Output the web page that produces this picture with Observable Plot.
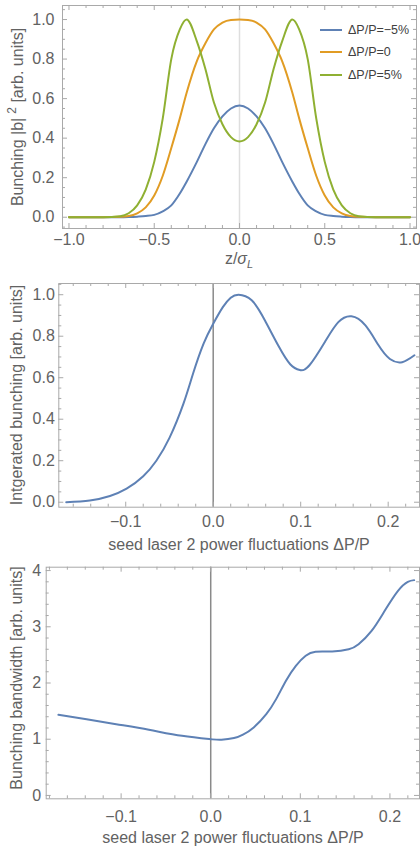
<!DOCTYPE html>
<html><head><meta charset="utf-8">
<script src="https://cdn.jsdelivr.net/npm/d3@7"></script>
<script src="https://cdn.jsdelivr.net/npm/@observablehq/plot@0.6"></script>
<style>
body{margin:0;background:#fff;}
#wrap{position:relative;width:420px;height:848px;overflow:hidden;}
#wrap svg{display:block;}
</style></head><body><div id="wrap"></div>
<script>
// ---------- Panel 1: bunching profiles ----------
const zValues = [-1.0,-0.8,-0.7,-0.65,-0.6,-0.55,-0.5,-0.45,-0.4,-0.35,-0.31,-0.25,-0.2,-0.15,-0.1,-0.05,0,0.05,0.1,0.15,0.2,0.25,0.31,0.35,0.4,0.45,0.5,0.55,0.6,0.65,0.7,0.8,1.0];
const bunchMinus5 = [0,0,0,0.001,0.003,0.006,0.012,0.03,0.06,0.12,0.18,0.28,0.37,0.45,0.51,0.55,0.565,0.55,0.51,0.45,0.37,0.28,0.18,0.12,0.06,0.03,0.012,0.006,0.003,0.001,0,0,0];
const bunchZero   = [0,0,0.002,0.006,0.02,0.05,0.11,0.21,0.35,0.50,0.63,0.79,0.88,0.95,0.985,0.998,1.0,0.998,0.985,0.95,0.88,0.79,0.63,0.50,0.35,0.21,0.11,0.05,0.02,0.006,0.002,0,0];
const bunchPlus5  = [0,0,0.005,0.02,0.06,0.14,0.28,0.50,0.80,0.95,1.0,0.89,0.75,0.58,0.47,0.405,0.383,0.405,0.47,0.58,0.75,0.89,1.0,0.95,0.80,0.50,0.28,0.14,0.06,0.02,0.005,0,0];
const seriesNames = ["ΔP/P=−5%","ΔP/P=0","ΔP/P=5%"];
const seriesColors = ["#5e81b5","#e19c24","#8fb032"];

// ---------- Panel 2: integrated bunching ----------
const detuning2 = [-0.168,-0.141,-0.118,-0.099,-0.080,-0.065,-0.050,-0.034,-0.023,-0.011,0,0.011,0.020,0.029,0.044,0.059,0.075,0.088,0.099,0.110,0.128,0.143,0.158,0.174,0.189,0.202,0.216,0.230];
const integrated = [0,0.008,0.03,0.065,0.125,0.20,0.31,0.475,0.62,0.764,0.86,0.94,0.985,1.0,0.973,0.877,0.75,0.665,0.637,0.66,0.775,0.868,0.896,0.852,0.756,0.69,0.675,0.708];

// ---------- Panel 3: bunching bandwidth ----------
const detuning3 = [-0.170,-0.1385,-0.1055,-0.069,-0.032,0,0.012,0.026,0.036,0.048,0.062,0.073,0.084,0.095,0.106,0.117,0.1355,0.154,0.165,0.1795,0.194,0.209,0.220,0.227];
const bandwidth = [1.434,1.357,1.268,1.168,1.06,1.0,0.99,1.02,1.08,1.21,1.446,1.713,2.04,2.306,2.484,2.555,2.56,2.60,2.69,2.927,3.28,3.64,3.80,3.83];

// ---------- tick labels ----------
const p1xMajor = [-1,-0.5,0,0.5,1];
const p1xMinor = [-0.9,-0.8,-0.7,-0.6,-0.4,-0.3,-0.2,-0.1,0.1,0.2,0.3,0.4,0.6,0.7,0.8,0.9];
const p1yMajor = [0,0.2,0.4,0.6,0.8,1.0];
const p1yMinor = [-0.05,0.05,0.1,0.15,0.25,0.3,0.35,0.45,0.5,0.55,0.65,0.7,0.75,0.85,0.9,0.95,1.05];
const p2xMajor = [-0.1,0,0.1,0.2];
const p2xMinor = [-0.16,-0.14,-0.12,-0.08,-0.06,-0.04,-0.02,0.02,0.04,0.06,0.08,0.12,0.14,0.16,0.18,0.22];
const p2yMajor = [0,0.2,0.4,0.6,0.8,1.0];
const p2yMinor = [0.05,0.1,0.15,0.25,0.3,0.35,0.45,0.5,0.55,0.65,0.7,0.75,0.85,0.9,0.95,1.05];
const p3xMajor = [-0.1,0,0.1,0.2];
const p3xMinor = [-0.18,-0.16,-0.14,-0.12,-0.08,-0.06,-0.04,-0.02,0.02,0.04,0.06,0.08,0.12,0.14,0.16,0.18,0.22];
const p3yMajor = [0,1,2,3,4];
const p3yMinor = [0.2,0.4,0.6,0.8,1.2,1.4,1.6,1.8,2.2,2.4,2.6,2.8,3.2,3.4,3.6,3.8];

const FONT = "'Liberation Sans', Arial, Helvetica, sans-serif";
const TXT = "#626262";
const FRAME = "#a9a9a9";
const fmt1 = d => (d < 0 ? "\u2212" : "") + Math.abs(d).toFixed(1);
const fmt0 = d => String(d);

function panel(o) {
  const W = 420;
  const pw = W - o.ml - o.mr, ph = o.h - o.mt - o.mb;
  return Plot.plot({
    width: W, height: o.h,
    marginTop: o.mt, marginBottom: o.mb, marginLeft: o.ml, marginRight: o.mr,
    x: {domain: o.xDomain}, y: {domain: o.yDomain},
    style: {fontFamily: FONT, fontSize: "16px", color: TXT, background: "white", overflow: "visible"},
    marks: [
      Plot.ruleX([0], {stroke: o.zeroColor, strokeWidth: 1.5}),
      ...o.marks,
      Plot.frame({stroke: FRAME, strokeWidth: 1}),
      Plot.tickX(o.xMajor, {x: d => d, insetTop: ph - 5, stroke: FRAME}),
      Plot.tickX(o.xMajor, {x: d => d, insetBottom: ph - 5, stroke: FRAME}),
      Plot.tickX(o.xMinor, {x: d => d, insetTop: ph - 3, stroke: FRAME}),
      Plot.tickX(o.xMinor, {x: d => d, insetBottom: ph - 3, stroke: FRAME}),
      Plot.tickY(o.yMajor, {y: d => d, insetRight: pw - 5, stroke: FRAME}),
      Plot.tickY(o.yMajor, {y: d => d, insetLeft: pw - 5, stroke: FRAME}),
      Plot.tickY(o.yMinor, {y: d => d, insetRight: pw - 3, stroke: FRAME}),
      Plot.tickY(o.yMinor, {y: d => d, insetLeft: pw - 3, stroke: FRAME}),
      Plot.axisX(o.xMajor, {tickSize: 0, tickPadding: o.xPad, tickFormat: o.xFmt, label: null, fill: TXT}),
      Plot.axisY(o.yMajor, {tickSize: 0, tickPadding: o.yPad, tickFormat: o.yFmt, label: null, fill: TXT})
    ]
  });
}

function addLabel(svg, {x, y, rotate = 0, parts}) {
  const t = d3.select(svg).append("text")
    .attr("transform", `translate(${x},${y}) rotate(${rotate})`)
    .attr("text-anchor", "middle")
    .attr("font-family", FONT).attr("font-size", 16).attr("fill", TXT);
  for (const p of parts) {
    const s = t.append("tspan").text(p.text);
    if (p.dy) s.attr("dy", p.dy);
    if (p.dx) s.attr("dx", p.dx);
    if (p.size) s.attr("font-size", p.size);
    if (p.italic) s.attr("font-style", "italic");
  }
}

const wrap = document.getElementById("wrap");

// Panel 1
const rows1 = [];
[bunchMinus5, bunchZero, bunchPlus5].forEach((arr, i) =>
  arr.forEach((v, j) => rows1.push({z: zValues[j], v, s: seriesNames[i]})));
const svg1 = panel({
  h: 268, mt: 5, mb: 40, ml: 62, mr: 4,
  xDomain: [-1.038, 1.038], yDomain: [-0.057, 1.071],
  xMajor: p1xMajor, xMinor: p1xMinor, yMajor: p1yMajor, yMinor: p1yMinor,
  xFmt: fmt1, yFmt: fmt1, xPad: 5, yPad: 8, zeroColor: "#dedede",
  marks: seriesNames.map((n, i) => Plot.line(rows1.filter(r => r.s === n),
    {x: "z", y: "v", stroke: seriesColors[i], strokeWidth: 2, curve: "monotone-x"}))
});
wrap.appendChild(svg1);
addLabel(svg1, {x: 23, y: 117, rotate: -90, parts: [
  {text: "Bunching |b|"}, {text: "2", dy: -7, dx: 4, size: 12}, {text: " [arb. units]", dy: 7}]});
addLabel(svg1, {x: 239, y: 264, parts: [
  {text: "z/"}, {text: "σ", italic: true}, {text: "L", italic: true, size: 11, dy: 4}]});
// legend
const lg = d3.select(svg1).append("g").attr("text-anchor", "start");
seriesNames.forEach((n, i) => {
  const yy = [30, 52, 75][i];
  lg.append("line").attr("x1", 320).attr("x2", 342).attr("y1", yy).attr("y2", yy)
    .attr("stroke", seriesColors[i]).attr("stroke-width", 2);
  lg.append("text").attr("x", 348).attr("y", yy).attr("dy", "0.35em").attr("text-anchor", "start")
    .attr("font-family", FONT).attr("font-size", 12.5).attr("fill", "#404040").text(n);
});

// Panel 2
const svg2 = panel({
  h: 288, mt: 15, mb: 49.3, ml: 58.3, mr: 1,
  xDomain: [-0.1765, 0.2358], yDomain: [-0.024, 1.054],
  xMajor: p2xMajor, xMinor: p2xMinor, yMajor: p2yMajor, yMinor: p2yMinor,
  xFmt: fmt1, yFmt: fmt1, xPad: 8, yPad: 4, zeroColor: "#8a8a8a",
  marks: [Plot.line(detuning2.map((x, i) => ({x, v: integrated[i]})),
    {x: "x", y: "v", stroke: seriesColors[0], strokeWidth: 2, curve: "natural"})]
});
wrap.appendChild(svg2);
addLabel(svg2, {x: 22, y: 127, rotate: -90, parts: [{text: "Intgerated bunching [arb. units]"}]});
addLabel(svg2, {x: 239, y: 282, parts: [{text: "seed laser 2 power fluctuations ΔP/P"}]});

// Panel 3
const svg3 = panel({
  h: 292, mt: 10.7, mb: 49.7, ml: 45.7, mr: 1,
  xDomain: [-0.1836, 0.233], yDomain: [-0.06, 4.06],
  xMajor: p3xMajor, xMinor: p3xMinor, yMajor: p3yMajor, yMinor: p3yMinor,
  xFmt: fmt1, yFmt: fmt0, xPad: 12, yPad: 5, zeroColor: "#8a8a8a",
  marks: [Plot.line(detuning3.map((x, i) => ({x, v: bandwidth[i]})),
    {x: "x", y: "v", stroke: seriesColors[0], strokeWidth: 2, curve: "natural"})]
});
wrap.appendChild(svg3);
addLabel(svg3, {x: 22, y: 122, rotate: -90, parts: [{text: "Bunching bandwidth [arb. units]"}]});
addLabel(svg3, {x: 233, y: 287, parts: [{text: "seed laser 2 power fluctuations ΔP/P"}]});
</script></body></html>
